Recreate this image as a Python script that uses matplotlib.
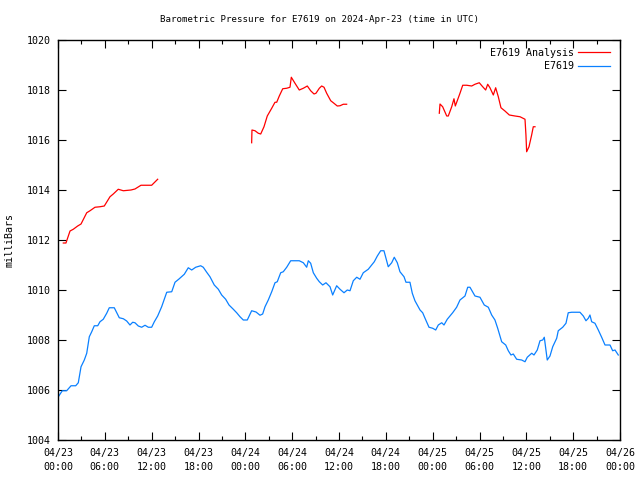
import matplotlib
matplotlib.use("Agg")
import matplotlib.pyplot as plt

# hours since 2024-04-23 00:00 UTC
ana1_h = [0.68, 1.02, 1.54, 1.96, 2.52, 2.95, 3.68, 4.10, 4.74, 5.38, 5.93, 6.66, 7.08,
          7.72, 8.37, 9.35, 9.86, 10.63, 12.0, 12.77]
ana1_p = [1011.88, 1011.88, 1012.36, 1012.43, 1012.56, 1012.64, 1013.09, 1013.17, 1013.31,
          1013.33, 1013.36, 1013.73, 1013.84, 1014.03, 1013.97, 1014.0, 1014.04, 1014.19,
          1014.19, 1014.43]

ana2_h = [24.81, 24.85, 25.24, 25.66, 25.97, 26.39, 26.81, 27.38, 27.80, 28.02, 28.35, 28.79,
          29.30, 29.72, 29.89, 30.36, 30.91, 31.43, 31.94, 32.37, 32.80, 33.05, 33.48, 33.78,
          34.08, 34.42, 34.94, 35.27, 35.78, 36.13, 36.55, 36.98]
ana2_p = [1015.89, 1016.4, 1016.37, 1016.27, 1016.24, 1016.53, 1016.96, 1017.27, 1017.51,
          1017.51, 1017.76, 1018.05, 1018.07, 1018.11, 1018.51, 1018.27, 1018.0, 1018.07,
          1018.16, 1017.97, 1017.84, 1017.87, 1018.07, 1018.16, 1018.11, 1017.87, 1017.57,
          1017.49, 1017.36, 1017.37, 1017.43, 1017.43]

ana3_h = [48.85, 48.94, 49.28, 49.80, 50.00, 50.44, 50.73, 50.90, 51.15, 51.50, 51.85, 52.36,
          53.00, 53.42, 53.97, 54.41, 54.79, 55.05, 55.34, 55.77, 56.07, 56.41, 56.75, 57.26,
          57.82, 58.55, 59.19, 59.83, 59.95, 60.04, 60.34, 60.68, 60.89, 61.11]
ana3_p = [1017.07, 1017.44, 1017.33, 1016.96, 1016.96, 1017.33, 1017.65, 1017.36, 1017.57,
          1017.87, 1018.19, 1018.19, 1018.16, 1018.23, 1018.29, 1018.13, 1018.0, 1018.23,
          1018.09, 1017.8, 1018.09, 1017.73, 1017.29, 1017.16, 1017.0, 1016.96, 1016.93,
          1016.83, 1016.2, 1015.53, 1015.73, 1016.2, 1016.53, 1016.53]

obs_h = [0.04, 0.55, 1.11, 1.67, 2.27, 2.60, 2.95, 3.37, 3.68, 4.01, 4.32, 4.65, 5.09, 5.38,
         5.80, 6.24, 6.57, 7.21, 7.85, 8.37, 8.80, 9.22, 9.57, 9.86, 10.29, 10.72, 11.15,
         11.57, 12.00, 12.34, 12.77, 13.28, 13.93, 14.57, 14.99, 15.50, 16.18, 16.69, 17.13,
         17.64, 18.28, 18.61, 19.05, 19.47, 20.02, 20.54, 20.97, 21.48, 21.91, 22.46, 22.89,
         23.32, 23.74, 24.25, 24.81, 25.37, 25.88, 26.22, 26.52, 26.94, 27.38, 27.80, 28.09,
         28.53, 28.86, 29.30, 29.81, 30.23, 30.91, 31.43, 31.86, 32.07, 32.37, 32.71, 33.14,
         33.48, 33.91, 34.33, 34.85, 35.19, 35.70, 36.13, 36.64, 37.06, 37.41, 37.83, 38.27,
         38.69, 39.11, 39.75, 40.19, 40.52, 40.91, 41.34, 41.76, 42.02, 42.31, 42.75, 43.08,
         43.47, 43.81, 44.33, 44.58, 45.09, 45.39, 45.73, 46.03, 46.38, 46.72, 47.02, 47.53,
         48.00, 48.39, 48.72, 49.16, 49.45, 49.87, 50.56, 51.07, 51.50, 52.14, 52.49, 52.78,
         53.42, 54.06, 54.61, 55.13, 55.56, 55.98, 56.33, 56.84, 57.36, 57.69, 58.03, 58.33,
         58.76, 59.40, 59.83, 60.12, 60.69, 60.98, 61.40, 61.75, 62.10, 62.30, 62.52, 62.68,
         63.03, 63.38, 63.89, 64.09, 64.66, 65.08, 65.37, 65.81, 66.87, 67.30, 67.64, 67.94,
         68.15, 68.37, 68.79, 69.22, 69.65, 70.08, 70.72, 71.06, 71.36, 71.78]
obs_p = [1005.73, 1005.97, 1005.97, 1006.17, 1006.17, 1006.29, 1006.93, 1007.2, 1007.47,
         1008.13, 1008.33, 1008.57, 1008.57, 1008.73, 1008.83, 1009.07, 1009.29, 1009.29,
         1008.89, 1008.85, 1008.76, 1008.6, 1008.71, 1008.69, 1008.56, 1008.51, 1008.59,
         1008.51, 1008.51, 1008.73, 1008.96, 1009.33, 1009.91, 1009.93, 1010.31, 1010.44,
         1010.63, 1010.89, 1010.8, 1010.91, 1010.97, 1010.91, 1010.71, 1010.53, 1010.2,
         1010.03, 1009.8, 1009.63, 1009.4, 1009.23, 1009.09, 1008.93, 1008.8, 1008.8,
         1009.17, 1009.12, 1008.99, 1009.04, 1009.33, 1009.6, 1009.93, 1010.29, 1010.33,
         1010.69, 1010.73, 1010.91, 1011.17, 1011.17, 1011.17, 1011.09, 1010.91, 1011.17,
         1011.07, 1010.69, 1010.47, 1010.33, 1010.2, 1010.29, 1010.13, 1009.8, 1010.17,
         1010.03, 1009.89, 1010.0, 1009.97, 1010.37, 1010.51, 1010.43, 1010.69, 1010.83,
         1011.0, 1011.13, 1011.36, 1011.57, 1011.57, 1011.27, 1010.93, 1011.09, 1011.31,
         1011.09, 1010.73, 1010.53, 1010.31, 1010.31, 1009.87, 1009.57, 1009.4, 1009.2,
         1009.09, 1008.87, 1008.51, 1008.47, 1008.4, 1008.6, 1008.69, 1008.6, 1008.83,
         1009.09, 1009.31, 1009.6, 1009.76, 1010.11, 1010.11, 1009.76, 1009.71, 1009.4,
         1009.31, 1009.0, 1008.8, 1008.47, 1007.93, 1007.8, 1007.57, 1007.4, 1007.44,
         1007.23, 1007.2, 1007.13, 1007.31, 1007.47, 1007.4, 1007.6, 1007.97, 1008.0,
         1008.11, 1007.57, 1007.2, 1007.36, 1007.73, 1008.07, 1008.37, 1008.51, 1008.67,
         1009.09, 1009.11, 1009.11, 1008.96, 1008.77, 1008.87, 1009.0, 1008.73, 1008.67,
         1008.4, 1008.11, 1007.8, 1007.8, 1007.57, 1007.6, 1007.4]

x_ticks = [0, 6, 12, 18, 24, 30, 36, 42, 48, 54, 60, 66, 72]
x_labels = ["04/23\n00:00", "04/23\n06:00", "04/23\n12:00", "04/23\n18:00",
            "04/24\n00:00", "04/24\n06:00", "04/24\n12:00", "04/24\n18:00",
            "04/25\n00:00", "04/25\n06:00", "04/25\n12:00", "04/25\n18:00",
            "04/26\n00:00"]
y_ticks = [1004, 1006, 1008, 1010, 1012, 1014, 1016, 1018, 1020]

FONT = "DejaVu Sans Mono"
FS = 7.2
FS_TITLE = 6.6
plt.rcParams['font.family'] = [FONT]

fig = plt.figure(figsize=(6.4, 4.8), dpi=100)
ax = fig.add_axes([58 / 640, 40 / 480, 562 / 640, 400 / 480])

red = "#ff0000"
blue = "#0a80ff"
lw = 0.9
ax.plot(ana1_h, ana1_p, color=red, lw=lw, label="E7619 Analysis")
ax.plot(ana2_h, ana2_p, color=red, lw=lw)
ax.plot(ana3_h, ana3_p, color=red, lw=lw)
ax.plot(obs_h, obs_p, color=blue, lw=lw, label="E7619")

ax.set_xlim(0, 72)
ax.set_ylim(1004, 1020)
ax.set_xticks(x_ticks)
ax.set_xticklabels(x_labels, fontsize=FS, linespacing=1.5)
ax.set_xticks([3 + 6 * i for i in range(12)], minor=True)
ax.set_yticks(y_ticks)
ax.set_yticklabels([str(v) for v in y_ticks], fontsize=FS)
ax.tick_params(axis='x', which='major', direction='in', length=6, width=0.8,
               top=True, pad=6)
ax.tick_params(axis='y', which='major', direction='in', length=6, width=0.8,
               right=True, pad=5)
ax.tick_params(axis='x', which='minor', direction='in', length=3, width=0.8,
               top=True, bottom=True)
for sp in ax.spines.values():
    sp.set_linewidth(1.0)

ax.set_ylabel("milliBars", fontsize=FS, labelpad=9)
fig.text(0.5, 1 - 20 / 480, "Barometric Pressure for E7619 on 2024-Apr-23 (time in UTC)",
         ha='center', va='center', fontsize=FS_TITLE)

leg = ax.legend(loc='upper right', frameon=False, markerfirst=False, fontsize=FS,
                handlelength=3.2, handletextpad=0.4, borderaxespad=0.2, labelspacing=0.35,
                bbox_to_anchor=(0.993, 0.995))
for t in leg.get_texts():
    t.set_ha('right')

fig.savefig("out.png", dpi=100)
